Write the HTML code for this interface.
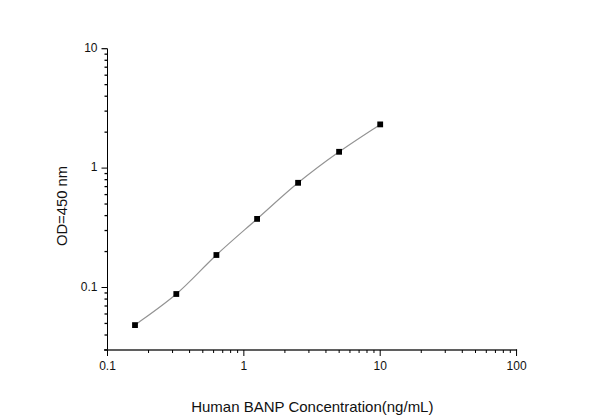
<!DOCTYPE html>
<html><head><meta charset="utf-8"><style>
html,body{margin:0;padding:0;background:#fff;}
svg{display:block;}
text{font-family:"Liberation Sans",Arial,sans-serif;font-size:12px;fill:#111;}
</style></head><body>
<svg width="600" height="419" viewBox="0 0 600 419">
<rect width="600" height="419" fill="#fff"/>
<line x1="107.5" y1="48.70" x2="107.5" y2="356.00" stroke="#000" stroke-width="1"/>
<line x1="104" y1="350.00" x2="517.05" y2="350.00" stroke="#2a2a2a" stroke-width="1.3"/>
<line x1="104.5" y1="349.93" x2="107.5" y2="349.93" stroke="#000" stroke-width="1.3"/>
<line x1="104.5" y1="335.01" x2="107.5" y2="335.01" stroke="#000" stroke-width="1.3"/>
<line x1="104.5" y1="323.44" x2="107.5" y2="323.44" stroke="#000" stroke-width="1.3"/>
<line x1="104.5" y1="313.99" x2="107.5" y2="313.99" stroke="#000" stroke-width="1.3"/>
<line x1="104.5" y1="306.00" x2="107.5" y2="306.00" stroke="#000" stroke-width="1.3"/>
<line x1="104.5" y1="299.07" x2="107.5" y2="299.07" stroke="#000" stroke-width="1.3"/>
<line x1="104.5" y1="292.96" x2="107.5" y2="292.96" stroke="#000" stroke-width="1.3"/>
<line x1="101.5" y1="287.50" x2="107.5" y2="287.50" stroke="#000" stroke-width="1.0"/>
<line x1="104.5" y1="251.56" x2="107.5" y2="251.56" stroke="#000" stroke-width="1.3"/>
<line x1="104.5" y1="230.53" x2="107.5" y2="230.53" stroke="#000" stroke-width="1.3"/>
<line x1="104.5" y1="215.61" x2="107.5" y2="215.61" stroke="#000" stroke-width="1.3"/>
<line x1="104.5" y1="204.04" x2="107.5" y2="204.04" stroke="#000" stroke-width="1.3"/>
<line x1="104.5" y1="194.59" x2="107.5" y2="194.59" stroke="#000" stroke-width="1.3"/>
<line x1="104.5" y1="186.60" x2="107.5" y2="186.60" stroke="#000" stroke-width="1.3"/>
<line x1="104.5" y1="179.67" x2="107.5" y2="179.67" stroke="#000" stroke-width="1.3"/>
<line x1="104.5" y1="173.56" x2="107.5" y2="173.56" stroke="#000" stroke-width="1.3"/>
<line x1="101.5" y1="168.10" x2="107.5" y2="168.10" stroke="#000" stroke-width="1.0"/>
<line x1="104.5" y1="132.16" x2="107.5" y2="132.16" stroke="#000" stroke-width="1.3"/>
<line x1="104.5" y1="111.13" x2="107.5" y2="111.13" stroke="#000" stroke-width="1.3"/>
<line x1="104.5" y1="96.21" x2="107.5" y2="96.21" stroke="#000" stroke-width="1.3"/>
<line x1="104.5" y1="84.64" x2="107.5" y2="84.64" stroke="#000" stroke-width="1.3"/>
<line x1="104.5" y1="75.19" x2="107.5" y2="75.19" stroke="#000" stroke-width="1.3"/>
<line x1="104.5" y1="67.20" x2="107.5" y2="67.20" stroke="#000" stroke-width="1.3"/>
<line x1="104.5" y1="60.27" x2="107.5" y2="60.27" stroke="#000" stroke-width="1.3"/>
<line x1="104.5" y1="54.16" x2="107.5" y2="54.16" stroke="#000" stroke-width="1.3"/>
<line x1="101.5" y1="48.70" x2="107.5" y2="48.70" stroke="#000" stroke-width="1.2"/>
<line x1="107.50" y1="350.0" x2="107.50" y2="356.0" stroke="#000" stroke-width="1"/>
<line x1="148.55" y1="350.0" x2="148.55" y2="353.0" stroke="#000" stroke-width="1"/>
<line x1="172.56" y1="350.0" x2="172.56" y2="353.0" stroke="#000" stroke-width="1"/>
<line x1="189.59" y1="350.0" x2="189.59" y2="353.0" stroke="#000" stroke-width="1"/>
<line x1="202.80" y1="350.0" x2="202.80" y2="353.0" stroke="#000" stroke-width="1"/>
<line x1="213.60" y1="350.0" x2="213.60" y2="353.0" stroke="#000" stroke-width="1"/>
<line x1="222.73" y1="350.0" x2="222.73" y2="353.0" stroke="#000" stroke-width="1"/>
<line x1="230.64" y1="350.0" x2="230.64" y2="353.0" stroke="#000" stroke-width="1"/>
<line x1="237.61" y1="350.0" x2="237.61" y2="353.0" stroke="#000" stroke-width="1"/>
<line x1="243.85" y1="350.0" x2="243.85" y2="356.0" stroke="#000" stroke-width="1"/>
<line x1="284.90" y1="350.0" x2="284.90" y2="353.0" stroke="#000" stroke-width="1"/>
<line x1="308.91" y1="350.0" x2="308.91" y2="353.0" stroke="#000" stroke-width="1"/>
<line x1="325.94" y1="350.0" x2="325.94" y2="353.0" stroke="#000" stroke-width="1"/>
<line x1="339.15" y1="350.0" x2="339.15" y2="353.0" stroke="#000" stroke-width="1"/>
<line x1="349.95" y1="350.0" x2="349.95" y2="353.0" stroke="#000" stroke-width="1"/>
<line x1="359.08" y1="350.0" x2="359.08" y2="353.0" stroke="#000" stroke-width="1"/>
<line x1="366.99" y1="350.0" x2="366.99" y2="353.0" stroke="#000" stroke-width="1"/>
<line x1="373.96" y1="350.0" x2="373.96" y2="353.0" stroke="#000" stroke-width="1"/>
<line x1="380.20" y1="350.0" x2="380.20" y2="356.0" stroke="#000" stroke-width="1"/>
<line x1="421.25" y1="350.0" x2="421.25" y2="353.0" stroke="#000" stroke-width="1"/>
<line x1="445.26" y1="350.0" x2="445.26" y2="353.0" stroke="#000" stroke-width="1"/>
<line x1="462.29" y1="350.0" x2="462.29" y2="353.0" stroke="#000" stroke-width="1"/>
<line x1="475.50" y1="350.0" x2="475.50" y2="353.0" stroke="#000" stroke-width="1"/>
<line x1="486.30" y1="350.0" x2="486.30" y2="353.0" stroke="#000" stroke-width="1"/>
<line x1="495.43" y1="350.0" x2="495.43" y2="353.0" stroke="#000" stroke-width="1"/>
<line x1="503.34" y1="350.0" x2="503.34" y2="353.0" stroke="#000" stroke-width="1"/>
<line x1="510.31" y1="350.0" x2="510.31" y2="353.0" stroke="#000" stroke-width="1"/>
<line x1="516.55" y1="349.4" x2="516.55" y2="356.0" stroke="#000" stroke-width="1"/>
<text x="97.5" y="52.00" text-anchor="end">10</text>
<text x="97.5" y="171.40" text-anchor="end">1</text>
<text x="97.5" y="290.80" text-anchor="end">0.1</text>
<text x="107.50" y="369.6" text-anchor="middle">0.1</text>
<text x="243.85" y="369.6" text-anchor="middle">1</text>
<text x="380.20" y="369.6" text-anchor="middle">10</text>
<text x="516.55" y="369.6" text-anchor="middle">100</text>
<path d="M135.00,325.10 C141.88,319.92 162.73,305.68 176.30,294.00 C189.87,282.32 202.93,267.52 216.40,255.00 C229.87,242.48 243.48,230.93 257.10,218.90 C270.72,206.87 284.43,193.98 298.10,182.80 C311.77,171.62 325.42,161.53 339.10,151.80 C352.78,142.07 373.35,128.97 380.20,124.40" fill="none" stroke="#939393" stroke-width="1.15"/>
<rect x="132.10" y="322.20" width="5.8" height="5.8" fill="#000"/>
<rect x="173.40" y="291.10" width="5.8" height="5.8" fill="#000"/>
<rect x="213.50" y="252.10" width="5.8" height="5.8" fill="#000"/>
<rect x="254.20" y="216.00" width="5.8" height="5.8" fill="#000"/>
<rect x="295.20" y="179.90" width="5.8" height="5.8" fill="#000"/>
<rect x="336.20" y="148.90" width="5.8" height="5.8" fill="#000"/>
<rect x="377.30" y="121.50" width="5.8" height="5.8" fill="#000"/>
<text x="312.3" y="411.5" text-anchor="middle" style="font-size:15px">Human BANP Concentration(ng/mL)</text>
<text transform="translate(67.1,206.0) rotate(-90)" text-anchor="middle" style="font-size:14.8px">OD=450 nm</text>
</svg>
</body></html>
